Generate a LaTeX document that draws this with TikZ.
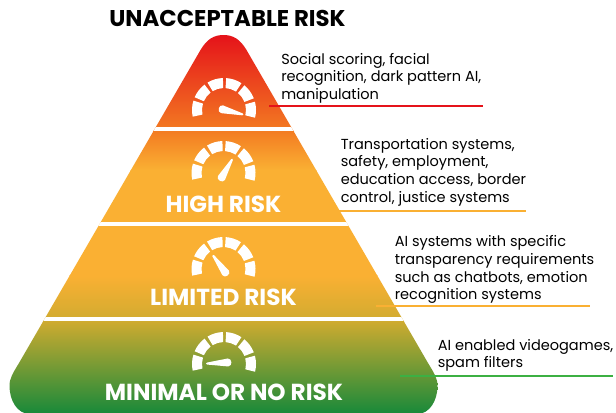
\documentclass[tikz,border=0pt]{standalone}
\usepackage{fontspec}
\setmainfont{Poppins}
\usetikzlibrary{calc}
\definecolor{cred}{HTML}{E5131A}
\definecolor{corange}{HTML}{F37B22}
\definecolor{cyellow}{HTML}{FAB033}
\definecolor{colive}{HTML}{D0AB30}
\definecolor{cgreen}{HTML}{17893A}
\definecolor{cgreenline}{HTML}{3CB043}
\tikzset{
  x=0.75pt,y=-0.75pt,
  tierlabel/.style={text=white,font=\bfseries\fontsize{17.4}{19}\selectfont,inner sep=0pt,anchor=center},
  desc/.style={anchor=north west,inner sep=0pt,align=left,text=black,font=\fontsize{10.9}{13.2}\selectfont},
  rule/.style={line width=0.95pt},
  seg/.style={fill=white,draw=none}
}
% centre x, centre y, needle pivot x, pivot y, needle angle
\newcommand{\gaugeicon}[5]{%
  \begin{scope}[shift={(#1,#2)},x=0.75pt,y=0.75pt]
    \foreach \a in {-14,21.5,57,92,127.5,163}{
      \fill[seg] (\a:32) arc[start angle=\a,end angle=\a+29,radius=32]
        -- ({\a+29}:22) arc[start angle=\a+29,end angle=\a,radius=22] -- cycle;
    }
  \end{scope}
  \begin{scope}[shift={(#3,#4)},x=0.75pt,y=0.75pt,rotate=#5]
    \fill[seg] (-1,4) .. controls (-5.5,4) and (-5.5,-4) .. (-1,-4) -- (20,-1) .. controls (21.3,-0.6) and (21.3,0.6) .. (20,1) -- cycle;
  \end{scope}}
\begin{document}
\begin{tikzpicture}
\useasboundingbox (0,0) rectangle (616,412);
\fill[white] (0,0) rectangle (616,412);
\begin{scope}
  \clip (223.5,35) .. controls (233,35) and (240,39) .. (246.5,50)
     -- (428,363) .. controls (434,373) and (437.5,378) .. (437.5,386)
     .. controls (437.5,400) and (430,414) .. (417,414)
     -- (30,414) .. controls (17,414) and (9.5,400) .. (9.5,386)
     .. controls (9.5,378) and (13,373) .. (19,363)
     -- (200.5,50) .. controls (207,39) and (214,35) .. (223.5,35) -- cycle;
  \shade[top color=cred,bottom color=corange] (0,35) rectangle (616,131);
  \shade[top color=corange,bottom color=cyellow] (0,130.5) rectangle (616,170);
  \fill[cyellow] (0,169.5) rectangle (616,276);
  \shade[top color=cyellow,bottom color=colive] (0,275.5) rectangle (616,321);
  \shade[top color=colive,bottom color=cgreen] (0,320.5) rectangle (616,414);
  \fill[white] (0,127) rectangle (616,130.5);
  \fill[white] (0,221.5) rectangle (616,225.5);
  \fill[white] (0,317) rectangle (616,320.5);
\end{scope}
\gaugeicon{224}{110}{223}{109.5}{-14}
\gaugeicon{223.5}{173}{222}{177}{60}
\gaugeicon{223.5}{269}{225}{272}{126}
\gaugeicon{224}{364}{227}{362.5}{183}
\node[anchor=center,inner sep=0pt,font=\bfseries\fontsize{17.1}{19}\selectfont] (title) at (227.5,18) {UNACCEPTABLE RISK};
\node[tierlabel] (high) at (223.5,204) {HIGH RISK};
\node[tierlabel] (limited) at (223.5,297) {LIMITED RISK};
\node[tierlabel] (minimal) at (224,392) {MINIMAL OR NO RISK};
\node[desc] (d1) at (281,53) {Social scoring, facial\\recognition, dark pattern AI,\\manipulation};
\node[desc] (d2) at (340.5,138) {Transportation systems,\\safety, employment,\\education access, border\\control, justice systems};
\node[desc] (d3) at (394.5,235.5) {AI systems with specific\\transparency requirements\\such as chatbots, emotion\\recognition systems};
\node[desc] (d4) at (437.5,339) {AI enabled videogames,\\spam filters};
\draw[rule,cred] (269,106) -- (483,106);
\draw[rule,cyellow] (291,211) -- (526,211);
\draw[rule,cyellow] (376,306) -- (590,306);
\draw[rule,cgreenline] (400,376) -- (613,376);
\end{tikzpicture}
\end{document}
